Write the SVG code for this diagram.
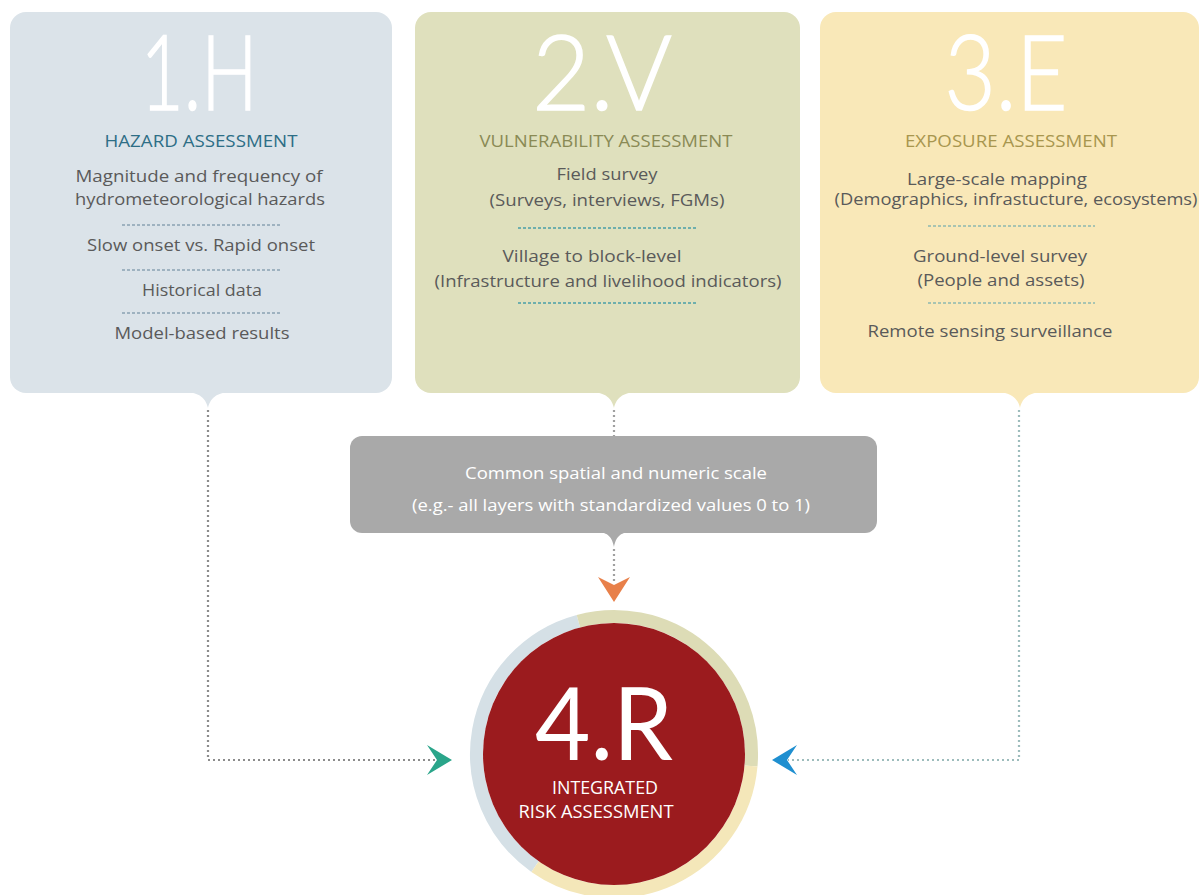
<svg xmlns="http://www.w3.org/2000/svg" width="1201" height="895" viewBox="0 0 1201 895">
  <style>
    .big { font-family: Lato, "Open Sans", "Liberation Sans", sans-serif; font-weight: 300; font-size: 104px; fill: #ffffff; stroke: #ffffff; stroke-width: 1.6; text-anchor: middle; }
    .head { font-family: "Open Sans", "Liberation Sans", sans-serif; font-size: 17px; text-anchor: middle; }
    .body { font-family: "Open Sans", "Liberation Sans", sans-serif; font-size: 17px; fill: #5a5a5a; text-anchor: middle; }
    .wtxt { font-family: "Open Sans", "Liberation Sans", sans-serif; font-size: 16px; fill: #ffffff; text-anchor: middle; }
    .sep { fill: none; stroke-width: 1.3; stroke-dasharray: 3 2; }
    .dot { fill: none; stroke-width: 2.2; stroke-dasharray: 2 3; }
    .ring { fill: none; stroke-width: 13; }
  </style>
  <rect width="1201" height="895" fill="#ffffff"/>

  <g id="node-hazard">
    <rect x="10" y="12" width="382" height="381" rx="16" fill="#dbe3e9"/>
    <path d="M184,392 C200,392 206,399 208,408 C210,399 216,392 232,392 Z" fill="#dbe3e9"/>
    <text class="big" x="199" y="110" textLength="117" lengthAdjust="spacingAndGlyphs">1.H</text>
    <text class="head" x="201" y="147" fill="#2d6e86" textLength="193" lengthAdjust="spacingAndGlyphs">HAZARD ASSESSMENT</text>
    <text class="body" x="199" y="182" textLength="247" lengthAdjust="spacingAndGlyphs">Magnitude and frequency of</text>
    <text class="body" x="200" y="205" textLength="250" lengthAdjust="spacingAndGlyphs">hydrometeorological hazards</text>
    <line class="sep" x1="122" y1="225" x2="280" y2="225" stroke="#8aa3b3"/>
    <text class="body" x="201" y="251" textLength="228" lengthAdjust="spacingAndGlyphs">Slow onset vs. Rapid onset</text>
    <line class="sep" x1="122" y1="270" x2="280" y2="270" stroke="#8aa3b3"/>
    <text class="body" x="202" y="296" textLength="120" lengthAdjust="spacingAndGlyphs">Historical data</text>
    <line class="sep" x1="122" y1="313" x2="280" y2="313" stroke="#8aa3b3"/>
    <text class="body" x="202" y="339" textLength="175" lengthAdjust="spacingAndGlyphs">Model-based results</text>
  </g>

  <g id="node-vulnerability">
    <rect x="415" y="12" width="385" height="381" rx="16" fill="#dfe0bd"/>
    <path d="M590,392 C606,392 612,399 614,408 C616,399 622,392 638,392 Z" fill="#dfe0bd"/>
    <text class="big" x="602" y="110" textLength="140" lengthAdjust="spacingAndGlyphs">2.V</text>
    <text class="head" x="606" y="147" fill="#8a8a55" textLength="253" lengthAdjust="spacingAndGlyphs">VULNERABILITY ASSESSMENT</text>
    <text class="body" x="607" y="180" textLength="101" lengthAdjust="spacingAndGlyphs">Field survey</text>
    <text class="body" x="607" y="206" textLength="235" lengthAdjust="spacingAndGlyphs">(Surveys, interviews, FGMs)</text>
    <line class="sep" x1="518" y1="228" x2="697" y2="228" stroke="#4a9fa8"/>
    <text class="body" x="592" y="262" textLength="179" lengthAdjust="spacingAndGlyphs">Village to block-level</text>
    <text class="body" x="608" y="287" textLength="347" lengthAdjust="spacingAndGlyphs">(Infrastructure and livelihood indicators)</text>
    <line class="sep" x1="518" y1="303" x2="697" y2="303" stroke="#4a9fa8"/>
  </g>

  <g id="node-exposure">
    <rect x="820" y="12" width="379" height="381" rx="16" fill="#f9e8b8"/>
    <path d="M996,392 C1012,392 1018,399 1020,408 C1022,399 1028,392 1044,392 Z" fill="#f9e8b8"/>
    <text class="big" x="1006" y="110" textLength="123" lengthAdjust="spacingAndGlyphs">3.E</text>
    <text class="head" x="1011" y="147" fill="#a8964e" textLength="212" lengthAdjust="spacingAndGlyphs">EXPOSURE ASSESSMENT</text>
    <text class="body" x="997" y="185" textLength="180" lengthAdjust="spacingAndGlyphs">Large-scale mapping</text>
    <text class="body" x="1016" y="205" textLength="363" lengthAdjust="spacingAndGlyphs">(Demographics, infrastucture, ecosystems)</text>
    <line class="sep" x1="928" y1="226" x2="1095" y2="226" stroke="#8db8b0"/>
    <text class="body" x="1000" y="262" textLength="174" lengthAdjust="spacingAndGlyphs">Ground-level survey</text>
    <text class="body" x="1001" y="286" textLength="167" lengthAdjust="spacingAndGlyphs">(People and assets)</text>
    <line class="sep" x1="928" y1="303" x2="1095" y2="303" stroke="#8db8b0"/>
    <text class="body" x="990" y="337" textLength="245" lengthAdjust="spacingAndGlyphs">Remote sensing surveillance</text>
  </g>

  <g id="node-scale">
    <rect x="350" y="436" width="527" height="97" rx="12" fill="#a9a9a9"/>
    <path d="M596,532 C609,532 612,538 614,547 C616,538 619,532 632,532 Z" fill="#a9a9a9"/>
    <text class="wtxt" x="616" y="479" textLength="302" lengthAdjust="spacingAndGlyphs">Common spatial and numeric scale</text>
    <text class="wtxt" x="611" y="511" textLength="398" lengthAdjust="spacingAndGlyphs">(e.g.- all layers with standardized values 0 to 1)</text>
  </g>

  <g id="connectors">
    <path class="dot" d="M208,410 V760 H440" stroke="#8c8c8c"/>
    <polygon points="452,760 427,745 437,760 427,775" fill="#2aa58a"/>
    <path class="dot" d="M1019,410 V760 H788" stroke="#9dbcbc"/>
    <polygon points="772,760 797,745 787,760 797,775" fill="#1f8fd0"/>
    <path class="dot" d="M614,410 V436" stroke="#a0a0a0"/>
    <path class="dot" d="M614,549 V582" stroke="#a0a0a0"/>
    <polygon points="614,602 598,577 614,585 630,577" fill="#e8804a"/>
  </g>

  <g id="node-risk">
    <path class="ring" d="M535.1,866.6 A137.5,137.5 0 0 1 578.4,621.2" stroke="#d5e0e6"/>
    <path class="ring" d="M578.4,621.2 A137.5,137.5 0 0 1 751,766" stroke="#dddcb6"/>
    <path class="ring" d="M751,766 A137.5,137.5 0 0 1 535.1,866.6" stroke="#f4e7b9"/>
    <circle cx="614" cy="754" r="131" fill="#9b1b1e"/>
    <text x="604" y="760" font-family="Lato, 'Open Sans', 'Liberation Sans', sans-serif" font-size="100" fill="#ffffff" text-anchor="middle" textLength="138" lengthAdjust="spacingAndGlyphs">4.R</text>
    <text x="605" y="794" font-family="'Open Sans', 'Liberation Sans', sans-serif" font-size="18" fill="#ffffff" text-anchor="middle" textLength="106" lengthAdjust="spacingAndGlyphs">INTEGRATED</text>
    <text x="596" y="818" font-family="'Open Sans', 'Liberation Sans', sans-serif" font-size="18" fill="#ffffff" text-anchor="middle" textLength="155" lengthAdjust="spacingAndGlyphs">RISK ASSESSMENT</text>
  </g>
</svg>
